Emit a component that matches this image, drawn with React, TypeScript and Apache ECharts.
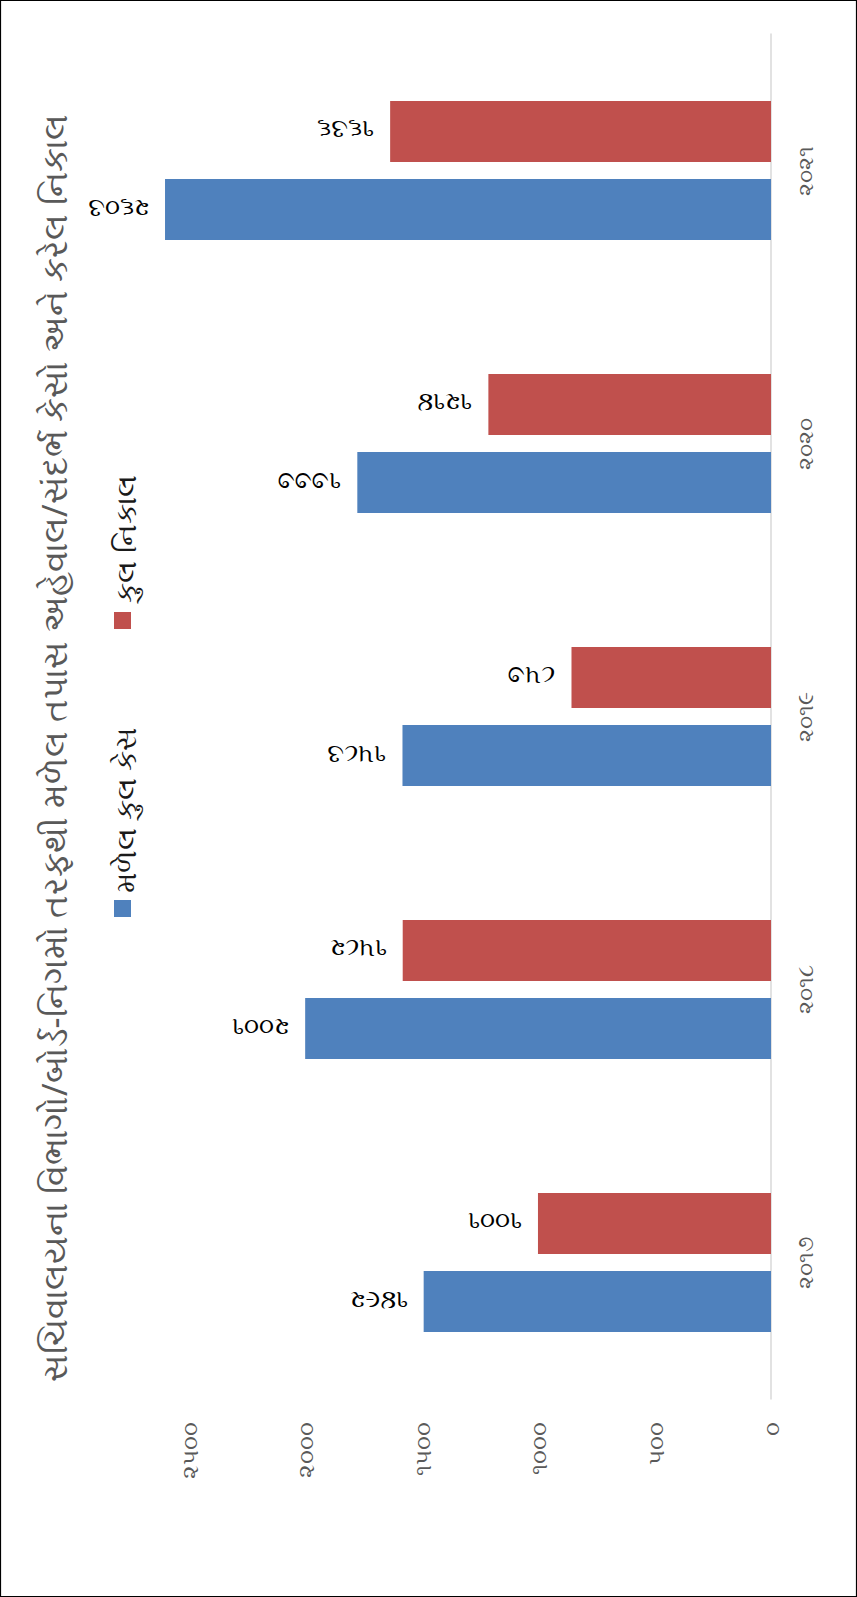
import React, { useEffect, useRef } from "react";
import * as echarts from "echarts";

const TITLE = "સચિવાલયના વિભાગો/બોર્ડ-નિગમો તરફથી મળેલ તપાસ અહેવાલ/સંદર્ભ કેસો અને કરેલ નિકાલ";
const YEARS = ["૨૦૧૭", "૨૦૧૮", "૨૦૧૯", "૨૦૨૦", "૨૦૨૧"];
const SERIES_NAMES = ["મળેલ કુલ કેસ", "કુલ નિકાલ"];
const RECEIVED = [1492, 2001, 1583, 1777, 2603];
const DISPOSED = [1001, 1582, 857, 1214, 1636];
const COLORS = ["#4f81bd", "#c0504d"];
const AXIS_MAX = 2500;
const AXIS_STEP = 500;

const toGu = (v: number | string) =>
  String(v).replace(/\d/g, (d) => String.fromCharCode(0x0ae6 + Number(d)));

const FONT = "'Noto Sans', 'DejaVu Sans', sans-serif";

export default function App() {
  const ref = useRef<HTMLDivElement>(null);
  useEffect(() => {
    document.body.style.margin = "0";
    const chart = echarts.init(ref.current!, null, { renderer: "svg" });
    const dataLabel = {
      show: true,
      position: "left",
      distance: 16,
      rotate: 180,
      align: "left",
      verticalAlign: "middle",
      color: "#000",
      fontSize: 25,
      fontFamily: FONT,
      formatter: (p: any) => toGu(p.value),
    };
    const barSeries = (i: number, data: number[]) => ({
      type: "bar",
      name: SERIES_NAMES[i],
      data,
      clip: false,
      barWidth: 61,
      barGap: "28%",
      itemStyle: { color: COLORS[i] },
      label: dataLabel,
    });
    const option: any = {
      animation: false,
      backgroundColor: "#fff",
      grid: { left: 189, right: 86, top: 34, bottom: 198, containLabel: false },
      xAxis: {
        type: "value",
        inverse: true,
        min: 0,
        max: AXIS_MAX,
        interval: AXIS_STEP,
        position: "bottom",
        axisLine: { show: false },
        axisTick: { show: false },
        splitLine: { show: false },
        axisLabel: {
          rotate: 90,
          margin: 23,
          color: "#595959",
          fontSize: 23,
          fontFamily: FONT,
          formatter: (v: number) => toGu(v),
        },
      },
      yAxis: {
        type: "category",
        data: YEARS,
        position: "right",
        axisLine: { lineStyle: { color: "#d9d9d9", width: 1.5 } },
        axisTick: { length: 7, lineStyle: { color: "#d9d9d9" } },
        axisLabel: {
          rotate: 90,
          margin: 22,
          color: "#595959",
          fontSize: 22,
          fontFamily: FONT,
        },
      },
      // disposed listed first so that it sits above the received bar in each band
      series: [barSeries(1, DISPOSED), barSeries(0, RECEIVED)],
      graphic: [
        {
          type: "rect",
          silent: true,
          shape: { x: 0.5, y: 0.5, width: 856, height: 1596 },
          style: { fill: "none", stroke: "#000", lineWidth: 1.2 },
        },
        {
          type: "text",
          x: 54,
          y: 748,
          rotation: Math.PI / 2,
          style: {
            text: TITLE,
            align: "center",
            verticalAlign: "middle",
            fill: "#595959",
            fontSize: 34,
            fontFamily: FONT,
          },
        },
        {
          type: "rect",
          shape: { x: 114, y: 900, width: 17, height: 17 },
          style: { fill: COLORS[0] },
        },
        {
          type: "text",
          x: 124,
          y: 893,
          rotation: Math.PI / 2,
          style: {
            text: SERIES_NAMES[0],
            align: "left",
            verticalAlign: "middle",
            fill: "#1a1a1a",
            fontSize: 29,
            fontFamily: FONT,
          },
        },
        {
          type: "rect",
          shape: { x: 114, y: 612, width: 17, height: 17 },
          style: { fill: COLORS[1] },
        },
        {
          type: "text",
          x: 124,
          y: 603,
          rotation: Math.PI / 2,
          style: {
            text: SERIES_NAMES[1],
            align: "left",
            verticalAlign: "middle",
            fill: "#1a1a1a",
            fontSize: 29,
            fontFamily: FONT,
          },
        },
      ],
    };
    chart.setOption(option);
    return () => chart.dispose();
  }, []);
  return (
    <div
      ref={ref}
      style={{ position: "absolute", left: 0, top: 0, width: 857, height: 1597 }}
    />
  );
}
